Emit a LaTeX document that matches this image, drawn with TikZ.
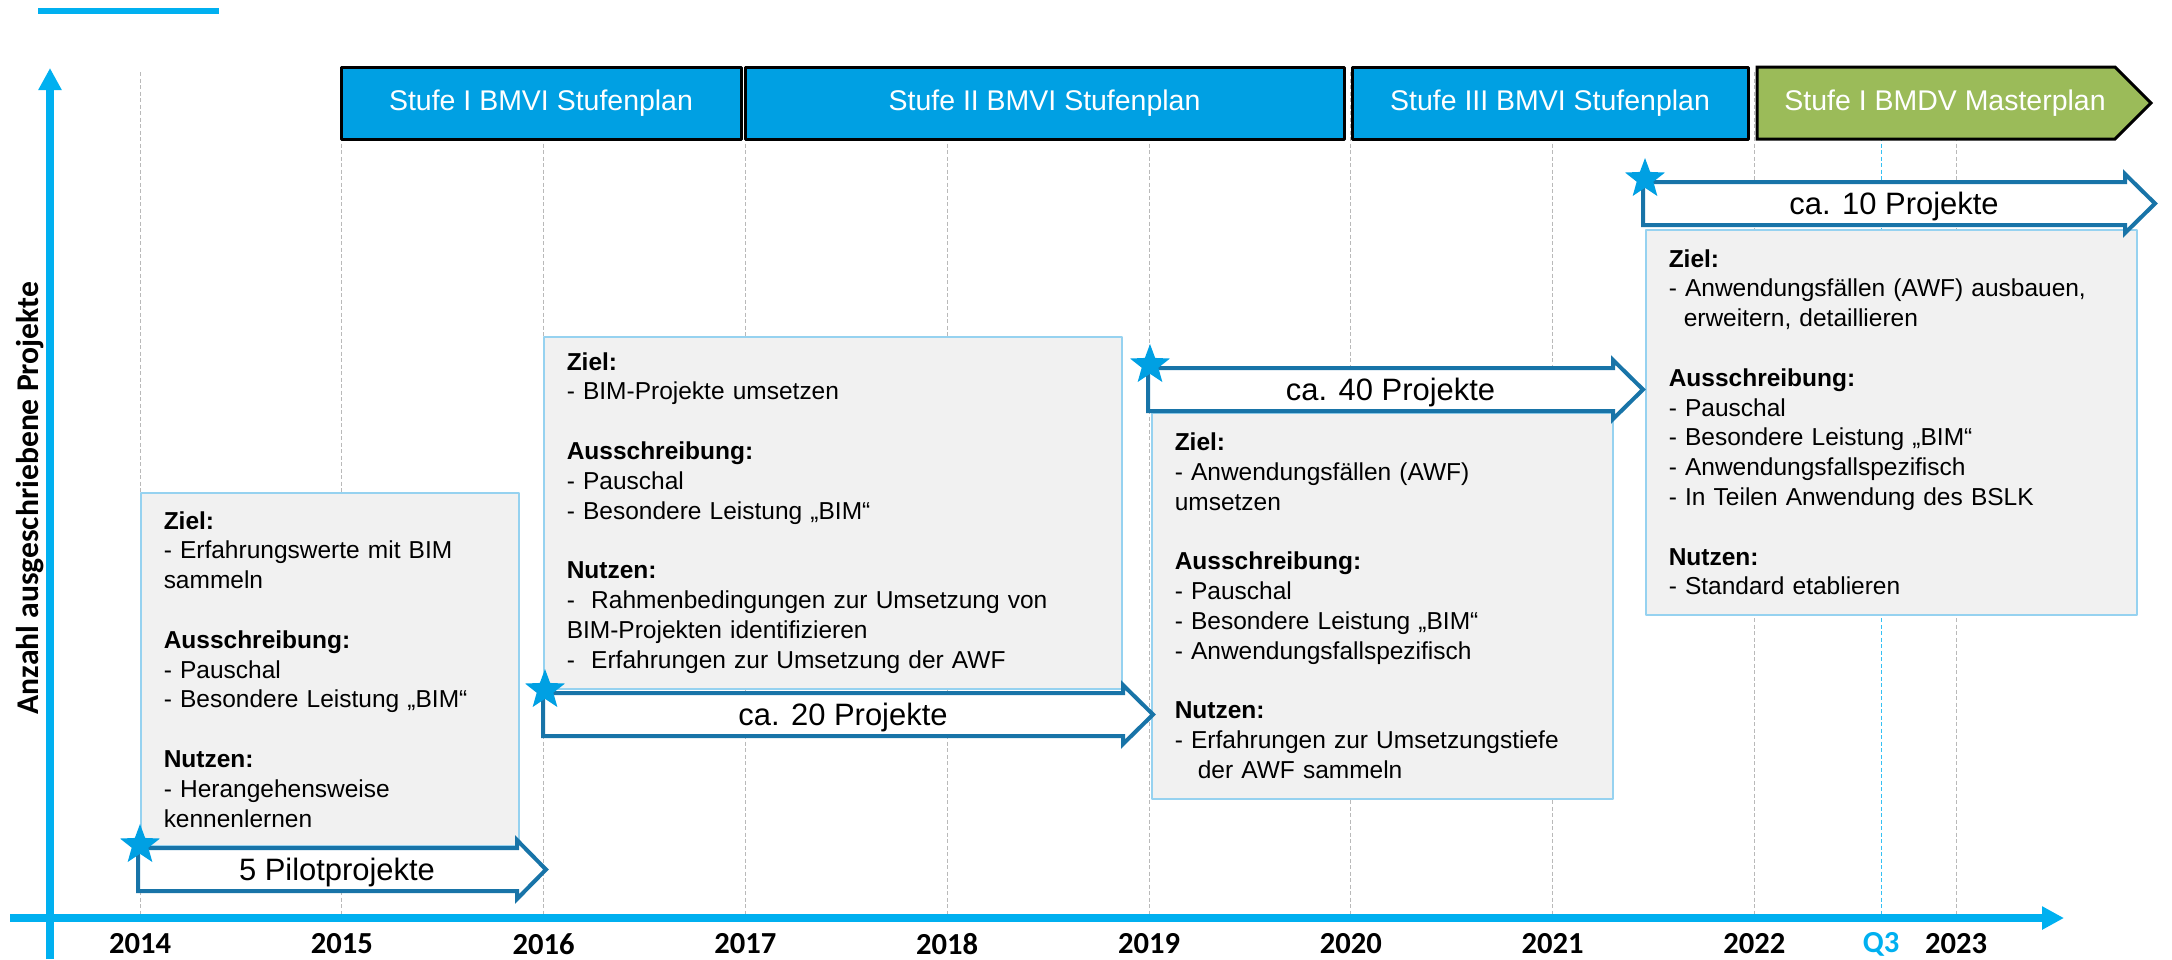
\documentclass[tikz,border=0pt]{standalone}
\usepackage{fontspec}
\setmainfont{Liberation Sans}
\newfontfamily\calibri{Carlito}
\usetikzlibrary{arrows.meta,shapes.geometric}

\definecolor{achse}{RGB}{0,176,240}
\definecolor{stufeblau}{RGB}{0,160,227}
\definecolor{stufegruen}{RGB}{155,187,89}
\definecolor{pfeilblau}{RGB}{24,116,168}
\definecolor{rahmen}{RGB}{150,210,240}
\definecolor{kasten}{RGB}{241,241,241}

% Projektpfeil: Name, links, oben, Ansatz der Spitze, Spitze, Text
\newcommand{\projpfeil}[6]{%
  \draw[pfeil] (#2,#3) -- (#4,#3) -- (#4,#3-8) -- (#5,#3+21.5) -- (#4,#3+51)
    -- (#4,#3+43) -- (#2,#3+43) -- cycle;
  \node[pfeiltext] (#1) at ({(#2+#5)/2-5},#3+32) {#6};
  \node[stern] (#1s) at (#2+2,#3-3) {};
}

\begin{document}
\begin{tikzpicture}[x=0.1mm, y=-0.1mm, line join=round,
  gitter/.style={gray!55, line width=0.1mm, dash pattern=on 0.4mm off 0.25mm},
  achsenpfeil/.style={achse, line width=0.75mm, -{Triangle[width=2.2mm,length=2.2mm]}},
  stufe/.style={draw=black, line width=0.3mm, fill=stufeblau, minimum height=7.2mm, inner sep=0},
  stufetext/.style={text=white, font=\fontsize{8.1}{9.7}\selectfont},
  info/.style={draw=rahmen, line width=0.15mm, fill=kasten, anchor=north west, align=left,
    inner xsep=2.3mm, inner ysep=0, font=\fontsize{6.97}{8.48}\selectfont},
  pfeil/.style={draw=pfeilblau, line width=0.4mm, fill=white, line join=miter},
  pfeiltext/.style={anchor=base, font=\fontsize{8.8}{10.5}\selectfont},
  stern/.style={star, star points=5, star point ratio=2.4, fill=stufeblau,
    minimum size=4.2mm, inner sep=0},
  jahr/.style={font=\calibri\bfseries\fontsize{8.7}{10}\selectfont}]
\useasboundingbox (0,0) rectangle (2172,959);

% Jahre
\foreach \j [count=\i from 0] in {2014,...,2023} {
  \draw[gitter] (140+201.8*\i,72) -- (140+201.8*\i,914);
  \node[jahr] (j\j) at (140+201.8*\i,944) {\j};
}
\draw[gitter, achse!80, line width=0.08mm] (1881,72) -- (1881,914);
\node[jahr, text=achse] (q3) at (1881,944) {Q3};

% Achsen
\draw[achse, line width=0.6mm] (38,11) -- (219,11);
\draw[achsenpfeil] (50,959) -- (50,68);
\draw[achsenpfeil] (10,918) -- (2064,918);
\node[jahr, font=\calibri\bfseries\fontsize{9}{11}\selectfont, rotate=90] (ylab) at (30,498)
  {Anzahl ausgeschriebene Projekte};

% Stufen
\node[stufe, minimum width=40mm] (h1) at (541,103) {};
\node[stufe, minimum width=59.9mm] (h2) at (1044.5,103) {};
\node[stufe, minimum width=39.6mm] (h3) at (1550,103) {};
\draw[line width=0.3mm, line join=miter, fill=stufegruen]
  (1757,67) -- (2115,67) -- (2151,103) -- (2115,139) -- (1757,139) -- cycle;
\node[stufetext] at (h1) {Stufe I BMVI Stufenplan};
\node[stufetext] at (h2) {Stufe II BMVI Stufenplan};
\node[stufetext] at (h3) {Stufe III BMVI Stufenplan};
\node[stufetext] (h4) at (1945,103) {Stufe I BMDV Masterplan};

% Kaesten
\node[info, text width=33.2mm, minimum height=35.3mm] (ziel1) at (140,492) {%
  \textbf{Ziel:}\\
  - Erfahrungswerte mit BIM\\
  sammeln\\[8.48pt]
  \textbf{Ausschreibung:}\\
  - Pauschal\\
  - Besondere Leistung „BIM“\\[8.48pt]
  \textbf{Nutzen:}\\
  - Herangehensweise\\
  kennenlernen};
\node[info, text width=53.2mm, minimum height=35.2mm] (ziel2) at (543,336) {%
  \textbf{Ziel:}\\
  - BIM-Projekte umsetzen\\[8.48pt]
  \textbf{Ausschreibung:}\\
  - Pauschal\\
  - Besondere Leistung „BIM“\\[8.48pt]
  \textbf{Nutzen:}\\
  -\ \ Rahmenbedingungen zur Umsetzung von\\
  BIM-Projekten identifizieren\\
  -\ \ Erfahrungen zur Umsetzung der AWF};
\node[info, text width=41.5mm, minimum height=38.6mm] (ziel3) at (1151,412) {%
  \textbf{Ziel:}\\
  - Anwendungsfällen (AWF)\\
  umsetzen\\[8.48pt]
  \textbf{Ausschreibung:}\\
  - Pauschal\\
  - Besondere Leistung „BIM“\\
  - Anwendungsfallspezifisch\\[8.48pt]
  \textbf{Nutzen:}\\
  - Erfahrungen zur Umsetzungstiefe\\
  \hspace*{2.3mm}der AWF sammeln};
\node[info, text width=44.5mm, minimum height=38.5mm] (ziel4) at (1645,229) {%
  \textbf{Ziel:}\\
  - Anwendungsfällen (AWF) ausbauen,\\
  \hspace*{1.5mm}erweitern, detaillieren\\[8.48pt]
  \textbf{Ausschreibung:}\\
  - Pauschal\\
  - Besondere Leistung „BIM“\\
  - Anwendungsfallspezifisch\\
  - In Teilen Anwendung des BSLK\\[8.48pt]
  \textbf{Nutzen:}\\
  - Standard etablieren};

% Projektpfeile
\projpfeil{p1}{138}{848}{517}{546}{5 Pilotprojekte}
\projpfeil{p2}{543}{693}{1123}{1153}{ca. 20 Projekte}
\projpfeil{p3}{1148}{368}{1613}{1643}{ca. 40 Projekte}
\projpfeil{p4}{1643}{182}{2125}{2155}{ca. 10 Projekte}
\end{tikzpicture}
\end{document}
